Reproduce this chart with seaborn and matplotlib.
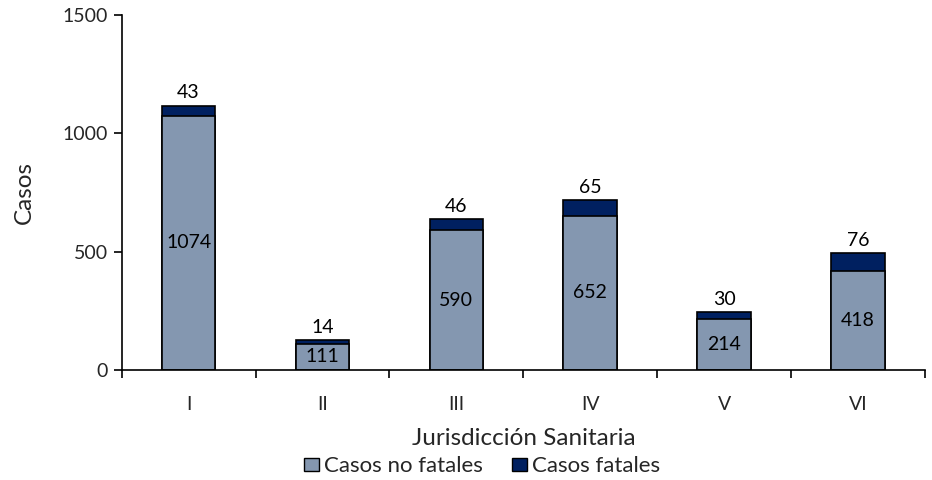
import matplotlib
matplotlib.use("Agg")
from matplotlib import pyplot as plt
from matplotlib.patches import Patch
import numpy as np
import pandas as pd
import seaborn as sns

jurisdicciones = ["I", "II", "III", "IV", "V", "VI"]
no_fatales = [1074, 111, 590, 652, 214, 418]
fatales = [43, 14, 46, 65, 30, 76]

color_no_fatal = "#8497B0"
color_fatal = "#002060"

sns.set_theme(style="white")
plt.rcParams["font.family"] = ["Lato", "DejaVu Sans"]

df = pd.DataFrame({"jur": jurisdicciones, "no_fatal": no_fatales, "fatal": fatales})
df["total"] = df["no_fatal"] + df["fatal"]

fig = plt.figure(figsize=(9.32, 4.8), dpi=100)
ax = fig.add_axes([0.1305, 0.229, 0.862, 0.740])

# total bar first (fatal colour), then the non-fatal part over it
sns.barplot(data=df, x="jur", y="total", color=color_fatal, width=0.4,
            edgecolor="black", linewidth=1.2, saturation=1, ax=ax)
sns.barplot(data=df, x="jur", y="no_fatal", color=color_no_fatal, width=0.4,
            edgecolor="black", linewidth=1.2, saturation=1, ax=ax)

for i, row in df.iterrows():
    ax.text(i, row["no_fatal"] / 2, str(row["no_fatal"]), ha="center", va="center",
            fontsize=14, color="black")
    ax.annotate(str(row["fatal"]), (i, row["total"]), xytext=(0, 3),
                textcoords="offset points", ha="center", va="bottom",
                fontsize=14, color="black")

ax.set_xlim(-0.5, len(jurisdicciones) - 0.5)
ax.set_ylim(0, 1500)
ax.set_yticks([0, 500, 1000, 1500])
ax.set_xticks(np.arange(len(jurisdicciones) + 1) - 0.5, minor=True)
ax.tick_params(axis="x", which="major", length=0, labelsize=14, pad=19)
ax.tick_params(axis="x", which="minor", length=6, width=1.2, color="black", direction="out", bottom=True)
ax.tick_params(axis="y", length=6, width=1.2, color="black", direction="out", left=True, labelsize=14, pad=4)

for s in ["top", "right"]:
    ax.spines[s].set_visible(False)
for s in ["left", "bottom"]:
    ax.spines[s].set_color("black")
    ax.spines[s].set_linewidth(1.2)

ax.set_ylabel("Casos", fontsize=17.5)
ax.yaxis.set_label_coords(-0.108, 0.5)
ax.set_xlabel("Jurisdicción Sanitaria", fontsize=17.5)
ax.xaxis.set_label_coords(0.5, -0.163)

handles = [Patch(facecolor=color_no_fatal, edgecolor="black", label="Casos no fatales"),
           Patch(facecolor=color_fatal, edgecolor="black", label="Casos fatales")]
fig.legend(handles=handles, loc="center", bbox_to_anchor=(0.517, 0.029), ncol=2,
           frameon=False, fontsize=16, handlelength=0.7, handleheight=0.55,
           handletextpad=0.2, columnspacing=1.3, borderaxespad=0)

fig.savefig("out.png", dpi=100)
